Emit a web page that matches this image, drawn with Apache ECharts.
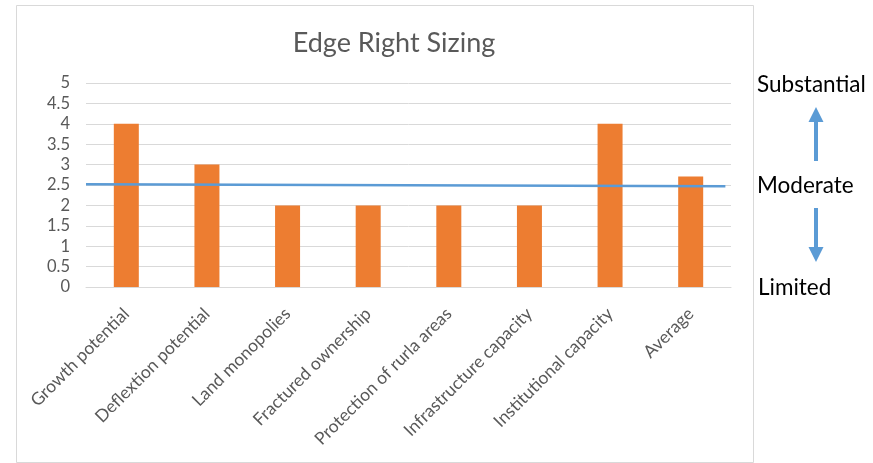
<!DOCTYPE html>
<html>
<head>
<meta charset="utf-8">
<script src="https://cdn.jsdelivr.net/npm/echarts@6/dist/echarts.min.js"></script>
<style>
  html, body { margin: 0; padding: 0; background: #ffffff; }
  #chart { width: 873px; height: 463px; }
</style>
</head>
<body>
<div id="chart"></div>
<script>
// Assessment categories and their scores (0 = limited, 5 = substantial)
const categories = [
  'Growth potential',
  'Deflextion potential',
  'Land monopolies',
  'Fractured ownership',
  'Protection of rurla areas',
  'Infrastructure capacity',
  'Institutional capacity',
  'Average'
];
const scores = [4, 3, 2, 2, 2, 2, 4, 2.71];

// Moderate reference line: [position along the category span, level]
const moderateLine = [[0, 2.52], [7.93, 2.47]];

// Y axis range
const yMin = 0, yMax = 5, yStep = 0.5;

const textGrey = '#595959';
const gridGrey = '#D9D9D9';
const barOrange = '#ED7D31';
const lineBlue = '#5B9BD5';
const font = 'Lato, "Open Sans", sans-serif';

const chart = echarts.init(document.getElementById('chart'));

chart.setOption({
  backgroundColor: '#ffffff',
  animation: false,
  title: {
    text: 'Edge Right Sizing',
    left: 389,
    top: 25,
    textAlign: 'center',
    textStyle: { fontFamily: font, fontSize: 27, fontWeight: 'normal', color: textGrey }
  },
  grid: { left: 86, right: 142, top: 83, bottom: 176 },
  xAxis: [
    {
      type: 'category',
      data: categories,
      axisLine: { lineStyle: { color: gridGrey, width: 1 } },
      axisTick: { show: false },
      axisLabel: {
        rotate: 45,
        interval: 0,
        margin: 24,
        padding: [20, 0, 0, 0],
        fontFamily: font,
        fontSize: 17.5,
        color: textGrey
      }
    },
    {
      type: 'value',
      min: 0,
      max: categories.length,
      show: false
    }
  ],
  yAxis: {
    type: 'value',
    min: yMin,
    max: yMax,
    interval: yStep,
    axisLine: { show: false },
    axisTick: { show: false },
    splitLine: { lineStyle: { color: gridGrey, width: 1 } },
    axisLabel: {
      margin: 16,
      fontFamily: font,
      fontSize: 16.5,
      color: textGrey
    }
  },
  series: [
    {
      type: 'bar',
      data: scores,
      barWidth: 25,
      itemStyle: { color: barOrange },
      xAxisIndex: 0
    },
    {
      type: 'line',
      data: moderateLine,
      xAxisIndex: 1,
      symbol: 'none',
      lineStyle: { color: lineBlue, width: 2.5 },
      z: 5
    }
  ],
  graphic: [
    // chart frame
    {
      type: 'rect',
      shape: { x: 16.5, y: 5.5, width: 737, height: 457 },
      style: { fill: 'none', stroke: gridGrey, lineWidth: 1 },
      silent: true
    },
    // scale annotations on the right
    {
      type: 'text', left: 757, top: 73,
      style: { text: 'Substantial', font: '22.5px ' + font, fill: '#000000' }
    },
    {
      type: 'text', left: 757, top: 174,
      style: { text: 'Moderate', font: '22.5px ' + font, fill: '#000000' }
    },
    {
      type: 'text', left: 758, top: 276,
      style: { text: 'Limited', font: '22.5px ' + font, fill: '#000000' }
    },
    // up arrow
    {
      type: 'polygon',
      shape: { points: [[816, 107], [823.5, 122], [818, 122], [818, 161], [814, 161], [814, 122], [808.5, 122]] },
      style: { fill: lineBlue }
    },
    // down arrow
    {
      type: 'polygon',
      shape: { points: [[816, 262], [823.5, 247], [818, 247], [818, 208], [814, 208], [814, 247], [808.5, 247]] },
      style: { fill: lineBlue }
    }
  ]
});
</script>
</body>
</html>
